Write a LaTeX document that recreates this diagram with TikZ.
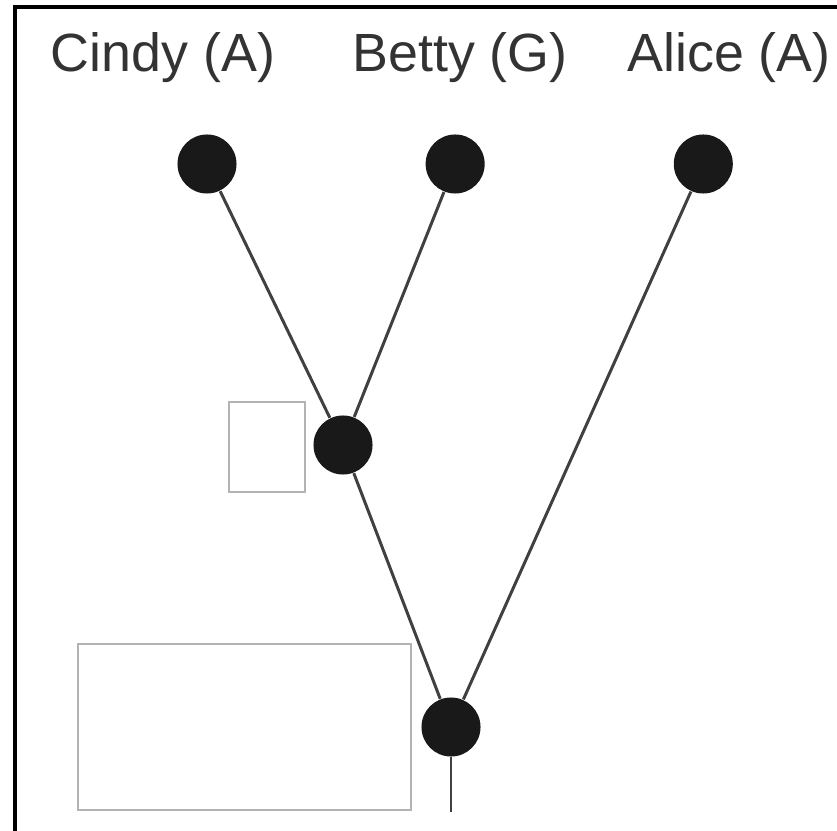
\documentclass[tikz,border=0pt]{standalone}
\usepackage{fontspec}
\setmainfont{Liberation Sans}
\usepackage{tikz}
\usetikzlibrary{arrows,shapes,positioning}
\tikzstyle{taxon}=[circle, fill=black!90, inner sep=0pt, minimum size=0.59cm]
\tikzstyle{taxlabel}=[font=\fontsize{15.3}{18}\selectfont, text=black!80, anchor=base, inner sep=0pt]
\tikzstyle{branch}=[draw, line width=0.85pt, black!75]
\tikzstyle{mask}=[draw=gray!70, line width=0.3pt, fill=white]
\definecolor{gray}{RGB}{146, 146, 146}

\begin{document}
\begin{tikzpicture}[x=0.01cm, y=-0.01cm, node distance=2.48cm]
      %
      \path[use as bounding box] (0,0) rectangle (837,831);
      %
      % frame
      %
      \draw[line width=1.15pt] (15,831) -- (15,7) -- (837,7);
      %
      % Cindy, Betty, Alice
      %
      \path node[taxon] at (207,164) (cindy) {};
      \path node[taxon, right of=cindy] (betty) {};
      \path node[taxon, right of=betty] (alice) {};
      \path node[taxlabel] at (163,72) (cindylab) {Cindy (A)};
      \path node[taxlabel] at (460,72) (bettylab) {Betty (G)};
      \path node[taxlabel] at (729,72) (alicelab) {Alice (A)};
      %
      % inner nodes
      %
      \path node[taxon] at (343,445) (inner) {};
      \path node[taxon] at (451,727) (mrca) {};
      \coordinate (root) at (451,812);
      %
      % branches
      %
      \path [branch] (cindy) -- (inner);
      \path [branch] (betty) -- (inner);
      \path [branch] (inner) -- (mrca);
      \path [branch] (alice) -- (mrca);
      \path [branch, line width=0.6pt] (mrca) -- (root);
      %
      % blank boxes
      %
      \path [mask] (229,402) rectangle (305,492);
      \path [mask] (78,644) rectangle (411,810);
      %
\end{tikzpicture}
\end{document}
